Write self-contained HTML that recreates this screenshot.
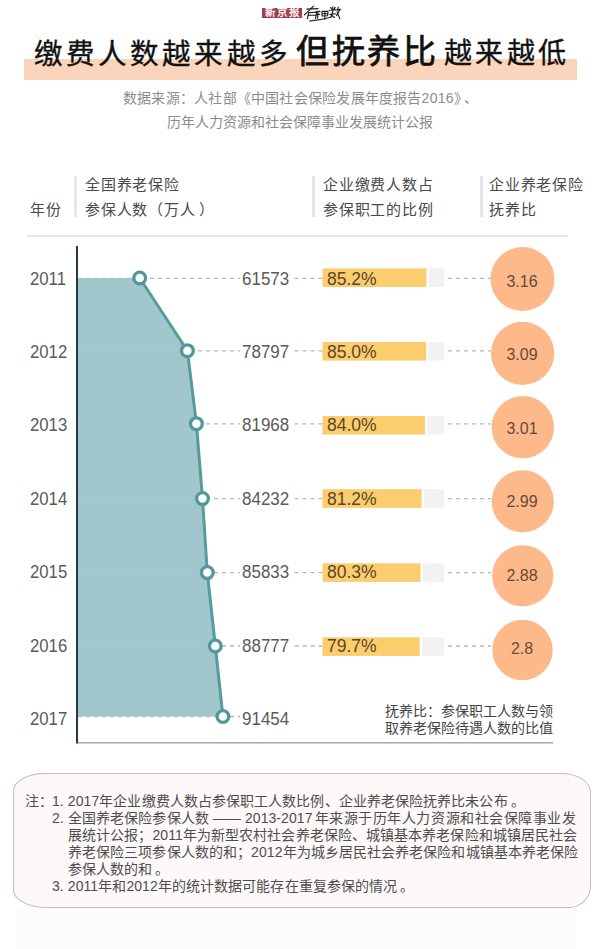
<!DOCTYPE html>
<html lang="zh-CN">
<head>
<meta charset="utf-8">
<style>
*{margin:0;padding:0;box-sizing:border-box;}
html,body{width:600px;height:949px;overflow:hidden;background:#fff;}
body{position:relative;font-family:"Liberation Sans",sans-serif;color:#444;font-weight:350;}
.a{position:absolute;white-space:nowrap;line-height:1;}
#logo-red{left:262px;top:8.3px;width:40px;height:10px;background:#a13b4f;color:#fbeef0;font-family:"Liberation Serif",serif;font-weight:700;font-size:10.5px;line-height:10px;text-align:center;letter-spacing:1.8px;text-indent:1.8px;overflow:hidden;}
#band{left:24px;top:59px;width:553px;height:20.5px;background:#fbd5bb;}
.t1{font-size:28.5px;letter-spacing:3.1px;color:#111;font-weight:500;-webkit-text-stroke:0.35px #111;}
.t2{font-size:33px;letter-spacing:2.7px;color:#111;font-weight:500;-webkit-text-stroke:0.75px #111;}
#src1{font-size:14px;color:#8c8c8c;}
#src2{left:0;width:600px;text-align:center;font-size:14px;color:#8c8c8c;}
.hd{font-size:15px;color:#4a4a4a;line-height:25px;letter-spacing:0.8px;}
.vb{position:absolute;width:3px;background:#e6e6e6;}
.yr{font-size:17.5px;color:#5a5a5a;left:29.6px;transform:scaleX(0.955);transform-origin:0 0;}
.num{font-size:17.5px;color:#5a5a5a;left:242.3px;transform:scaleX(0.97);transform-origin:0 0;}
.pct{font-size:17.5px;color:#5a4526;left:327px;}
.rat{font-size:16px;color:#66493a;width:60px;text-align:center;left:492px;}
#legend{left:385px;top:703px;font-size:14px;line-height:17px;color:#444;}
#note{left:13px;top:773px;width:578px;height:135px;background:#fdf9f8;border:1px solid #c4bdba;border-radius:32px 30px 22px 34px / 18px 19px 22px 18px;}
.nl{font-size:14px;color:#4d4d4d;line-height:17px;letter-spacing:0.08px;}
.pd{margin-left:3px;}
</style>
</head>
<body>
<div class="a" id="logo-red">新京报</div>
<svg class="a" style="left:0;top:0;" width="345" height="24" viewBox="0 0 345 24"><g fill="none" stroke="#1c1c1c" stroke-width="1.15" stroke-linecap="round" stroke-linejoin="round">
<path d="M313.5,6.2 L304.4,14.8 M307,9.1 L318,8.6 M308.6,12.8 L307.4,18.7 M308.8,12.6 L316.8,12.2 L315.5,18.5 M309,15.3 L315.8,15"/>
<path d="M316,11.6 L320,11.4 M316.3,14.6 L319.6,14.4 M318,11.6 L317.6,18.2 M322,11.4 L328,11.2 L327.6,15.8 L322,16 Z M325,11.3 L324.8,19.2 M322.2,13.7 L327.7,13.5"/>
<path d="M329.3,10.2 L335.9,9.9 M332.9,6.9 L332.6,12.6 M330.8,7.5 L331.6,9 M335.2,7.4 L334.2,9 M329.9,14.4 L335.6,13.8 M332.5,12.8 L331,17.2 M331.2,15 L334.5,17.5 M338.3,7.2 L337.1,10.5 M337.1,9.9 L340.7,9.3 M340.1,9.3 L336.5,15.6 M337.1,12 L339.8,18.6"/>
</g><path d="M309.5,21 C316,20.2 324,19.6 331,17" fill="none" stroke="#4a1e26" stroke-width="1.1" stroke-linecap="round"/></svg>

<div class="a" id="band"></div>
<div class="a t1" style="left:34px;top:39.5px;">缴费人数越来越多</div>
<div class="a t2" style="left:296px;top:35px;">但抚养比</div>
<div class="a t1" style="left:444px;top:40.3px;font-size:28px;letter-spacing:3.3px;">越来越低</div>

<div class="a" id="src1" style="top:91px;left:123px;letter-spacing:0.22px;">数据来源：人社部《中国社会保险发展年度报告2016》<span style="margin-left:3px">、</span></div>
<div class="a" id="src2" style="top:115px;">历年人力资源和社会保障事业发展统计公报</div>

<!-- header -->
<div class="vb" style="left:73.5px;top:176px;height:41px;"></div>
<div class="vb" style="left:312px;top:176px;height:41px;"></div>
<div class="vb" style="left:480px;top:176px;height:41px;"></div>
<div class="a hd" style="left:30px;top:197px;">年份</div>
<div class="a hd" style="left:85px;top:172px;">全国养老保险<br>参保人数（万人<span style="margin-left:3px">）</span></div>
<div class="a hd" style="left:323px;top:172px;">企业缴费人数占<br>参保职工的比例</div>
<div class="a hd" style="left:489px;top:172px;">企业养老保险<br>抚养比</div>
<div class="a" style="left:27px;top:234.7px;width:541px;height:2.4px;background:#e6e6e6;"></div>

<svg class="a" style="left:0;top:0;" width="600" height="949" viewBox="0 0 600 949">
  <g stroke="#bcb6b6" stroke-width="1.3" stroke-dasharray="4 4" fill="none">
    <line x1="78" y1="278.3" x2="240" y2="278.3"/>
    <line x1="294.5" y1="278.3" x2="322.5" y2="278.3"/>
    <line x1="448" y1="278.3" x2="491" y2="278.3"/>
    <line x1="78" y1="350.8" x2="240" y2="350.8"/>
    <line x1="294.5" y1="350.8" x2="322.5" y2="350.8"/>
    <line x1="448" y1="350.8" x2="491" y2="350.8"/>
    <line x1="78" y1="423.8" x2="240" y2="423.8"/>
    <line x1="294.5" y1="423.8" x2="322.5" y2="423.8"/>
    <line x1="448" y1="423.8" x2="491" y2="423.8"/>
    <line x1="78" y1="498.6" x2="240" y2="498.6"/>
    <line x1="294.5" y1="498.6" x2="322.5" y2="498.6"/>
    <line x1="448" y1="498.6" x2="491" y2="498.6"/>
    <line x1="78" y1="572.6" x2="240" y2="572.6"/>
    <line x1="294.5" y1="572.6" x2="322.5" y2="572.6"/>
    <line x1="448" y1="572.6" x2="491" y2="572.6"/>
    <line x1="78" y1="646.0" x2="240" y2="646.0"/>
    <line x1="294.5" y1="646.0" x2="322.5" y2="646.0"/>
    <line x1="448" y1="646.0" x2="491" y2="646.0"/>
    <line x1="78" y1="716.5" x2="240" y2="716.5"/>
  </g>
  <polygon fill="#a1c6cc" points="78,278 139.7,278.0 187.4,350.7 196.4,423.7 202.5,498.6 207.3,572.6 215.3,646.0 222.9,716.5 78,716.5"/>
  <clipPath id="ac"><polygon points="78,278 139.7,278.0 187.4,350.7 196.4,423.7 202.5,498.6 207.3,572.6 215.3,646.0 222.9,716.5 78,716.5"/></clipPath>
  <g clip-path="url(#ac)" stroke="#ffffff" stroke-opacity="0.1" stroke-width="1.3" stroke-dasharray="4 4">
    <line x1="78" y1="350.8" x2="240" y2="350.8"/>
    <line x1="78" y1="423.8" x2="240" y2="423.8"/>
    <line x1="78" y1="498.6" x2="240" y2="498.6"/>
    <line x1="78" y1="572.6" x2="240" y2="572.6"/>
    <line x1="78" y1="646.0" x2="240" y2="646.0"/>
  </g>
  <polyline fill="none" stroke="#559c9d" stroke-width="3" stroke-linejoin="round" points="139.7,278.0 187.4,350.7 196.4,423.7 202.5,498.6 207.3,572.6 215.3,646.0 222.9,716.5"/>
  <g fill="#fff" stroke="#509899" stroke-width="3.3">
    <circle cx="139.7" cy="278.0" r="5.9"/>
    <circle cx="187.4" cy="350.7" r="5.9"/>
    <circle cx="196.4" cy="423.7" r="5.9"/>
    <circle cx="202.5" cy="498.6" r="5.9"/>
    <circle cx="207.3" cy="572.6" r="5.9"/>
    <circle cx="215.3" cy="646.0" r="5.9"/>
    <circle cx="222.9" cy="716.5" r="5.9"/>
  </g>
  <!-- bars -->
  <g fill="#f2f2f3">
    <rect x="428.9" y="268.4" width="15.4" height="18.6"/>
    <rect x="428.7" y="342.0" width="15.6" height="18.6"/>
    <rect x="427.5" y="416.0" width="16.8" height="18.6"/>
    <rect x="424.1" y="489.2" width="20.2" height="18.6"/>
    <rect x="423.0" y="563.3" width="21.3" height="18.6"/>
    <rect x="422.2" y="637.3" width="22.1" height="18.6"/>
  </g>
  <g fill="#fccd6e">
    <rect x="322.5" y="268.4" width="103.9" height="18.6"/>
    <rect x="322.5" y="342.0" width="103.7" height="18.6"/>
    <rect x="322.5" y="416.0" width="102.5" height="18.6"/>
    <rect x="322.5" y="489.2" width="99.1" height="18.6"/>
    <rect x="322.5" y="563.3" width="98.0" height="18.6"/>
    <rect x="322.5" y="637.3" width="97.2" height="18.6"/>
  </g>
  <!-- ratio circles -->
  <g fill="#fdb98a">
    <circle cx="522.5" cy="279" r="32"/>
    <circle cx="522.6" cy="353.4" r="31.6"/>
    <circle cx="522.8" cy="427.2" r="31.2"/>
    <circle cx="522.7" cy="501.3" r="31.1"/>
    <circle cx="522.7" cy="575.8" r="30.6"/>
    <circle cx="522.5" cy="650" r="30.2"/>
  </g>
  <!-- axes -->
  <rect x="76" y="246" width="2" height="497.5" fill="#283a3d"/>
  <rect x="78" y="742.2" width="475" height="1.3" fill="#9c9c9c"/>
</svg>

<div class="a yr" style="top:271px;">2011</div>
<div class="a yr" style="top:344px;">2012</div>
<div class="a yr" style="top:417px;">2013</div>
<div class="a yr" style="top:491px;">2014</div>
<div class="a yr" style="top:564px;">2015</div>
<div class="a yr" style="top:637.5px;">2016</div>
<div class="a yr" style="top:711px;">2017</div>

<div class="a num" style="top:271px;">61573</div>
<div class="a num" style="top:344px;">78797</div>
<div class="a num" style="top:417px;">81968</div>
<div class="a num" style="top:491px;">84232</div>
<div class="a num" style="top:564px;">85833</div>
<div class="a num" style="top:638px;">88777</div>
<div class="a num" style="top:711px;">91454</div>

<div class="a pct" style="top:271px;">85.2%</div>
<div class="a pct" style="top:344px;">85.0%</div>
<div class="a pct" style="top:417px;">84.0%</div>
<div class="a pct" style="top:491px;">81.2%</div>
<div class="a pct" style="top:564px;">80.3%</div>
<div class="a pct" style="top:638px;">79.7%</div>

<div class="a rat" style="top:273.5px;">3.16</div>
<div class="a rat" style="top:347px;">3.09</div>
<div class="a rat" style="top:421px;">3.01</div>
<div class="a rat" style="top:494px;">2.99</div>
<div class="a rat" style="top:568px;">2.88</div>
<div class="a rat" style="top:641px;">2.8</div>

<div class="a" id="legend">抚养比：参保职工人数与领<br>取养老保险待遇人数的比值</div>

<div class="a" style="left:16px;top:909px;width:560px;height:40px;background:#fdfbfb;"></div>
<div class="a" id="note"></div>
<div class="a nl" style="left:25px;top:793px;">注：</div>
<div class="a nl" style="left:52px;top:793px;">1. 2017年企业缴费人数占参保职工人数比例、企业养老保险抚养比未公布<span class="pd">。</span></div>
<div class="a nl" style="left:52px;top:810px;">2.</div>
<div class="a nl" style="left:68px;top:810px;">全国养老保险参保人数 —— 2013-2017<span style="letter-spacing:0.55px;margin-left:2px;">年来源于历年人力资源和社会保障事业发</span><br>展统计公报；2011年为新型农村社会养老保险、城镇基本养老保险和城镇居民社会<br>养老保险三项参保人数的和；2012年为城乡居民社会养老保险和城镇基本养老保险<br>参保人数的和<span class="pd">。</span></div>
<div class="a nl" style="left:52px;top:878px;">3. 2011年和2012年的统计数据可能存在重复参保的情况<span class="pd">。</span></div>
</body>
</html>
